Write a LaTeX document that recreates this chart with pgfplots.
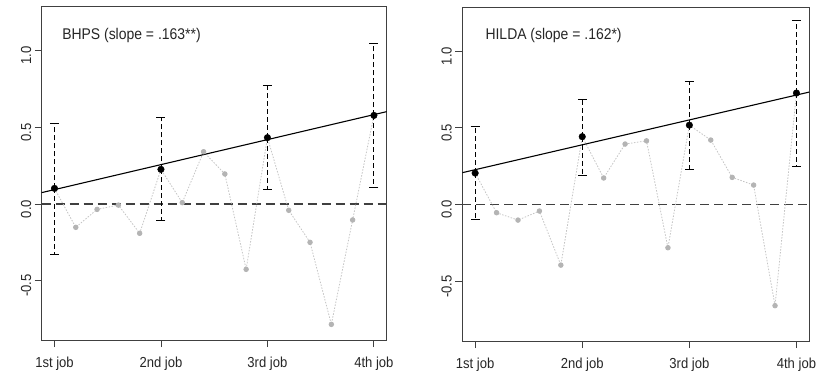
\documentclass[border=0pt]{standalone}
\usepackage{fontspec}
\setmainfont{Liberation Sans}[FakeStretch=0.9]
\usepackage{pgfplots}
\usepackage{pgfplotstable}
\pgfplotsset{compat=1.18}

\definecolor{ptgray}{HTML}{B4B4B4}
\definecolor{lngray}{HTML}{C4C4C4}
\definecolor{axgray}{HTML}{404040}

% BHPS: all points (jobs and intermediate)
\pgfplotstableread{
x y
1.0 0.102
1.2 -0.152
1.4 -0.035
1.6 -0.007
1.8 -0.191
2.0 0.226
2.2 0.009
2.4 0.341
2.6 0.196
2.8 -0.426
3.0 0.433
3.2 -0.041
3.4 -0.250
3.6 -0.785
3.8 -0.104
4.0 0.578
}\bhpsall
\pgfplotstableread{
x y ep em
1 0.102 0.424 0.428
2 0.226 0.339 0.335
3 0.433 0.343 0.335
4 0.578 0.470 0.469
}\bhpsjob
\pgfplotstableread{
x y
0.88 0.0744
4.12 0.6026
}\bhpsfit

% HILDA
\pgfplotstableread{
x y
1.0 0.206
1.2 -0.052
1.4 -0.100
1.6 -0.041
1.8 -0.393
2.0 0.443
2.2 0.174
2.4 0.395
2.6 0.416
2.8 -0.280
3.0 0.518
3.2 0.421
3.4 0.178
3.6 0.128
3.8 -0.657
4.0 0.727
}\hildaall
\pgfplotstableread{
x y ep em
1 0.206 0.306 0.299
2 0.443 0.245 0.254
3 0.518 0.287 0.286
4 0.727 0.473 0.480
}\hildajob
\pgfplotstableread{
x y
0.88 0.2086
4.12 0.7334
}\hildafit

\pgfplotsset{
  rstyle/.style={
    scale only axis,
    xmin=0.88, xmax=4.12,
    ymin=-0.887, ymax=1.287,
    axis line style={axgray, line width=0.9pt},
    xtick={1,2,3,4},
    xticklabels={1st job,2nd job,3rd job,4th job},
    ytick={-0.5,0,0.5,1},
    yticklabels={-0.5,0.0,0.5,1.0},
    tick align=outside,
    tick pos=left,
    major tick length=7pt,
    tick style={axgray, line width=0.9pt},
    xticklabel style={font=\fontsize{14.5}{16}\selectfont, text=black!85, yshift=-6pt},
    yticklabel style={font=\fontsize{14.5}{16}\selectfont, text=black!85, rotate=90, anchor=south, xshift=-5pt},
    clip=true,
  },
  ebar/.style={
    draw=none, mark=none,
    error bars/.cd,
      y dir=both, y explicit,
      error bar style={black, line width=0.9pt, dash pattern=on 5pt off 3pt},
      error mark=-,
      error mark options={black, line width=0.9pt, solid, mark size=4.5pt, rotate=90},
  },
}

\begin{document}
\begin{tikzpicture}
% ---------- BHPS ----------
\begin{axis}[rstyle, at={(41.7pt,33pt)}, anchor=south west, width=345pt, height=333.3pt]
  \addplot[black!75, line width=1.2pt, dash pattern=on 9pt off 5pt, forget plot] coordinates {(0.88,0) (4.12,0)};
  \addplot[lngray, line width=0.8pt, dash pattern=on 1.5pt off 1.5pt, mark=*, mark size=2.3pt,
           mark options={solid, draw=ptgray, fill=ptgray}] table[x=x, y=y] {\bhpsall};
  \addplot[black, line width=1.1pt] table[x=x, y=y] {\bhpsfit};
  \addplot[ebar] table[x=x, y=y, y error plus=ep, y error minus=em] {\bhpsjob};
  \addplot[only marks, mark=*, mark size=3.3pt, black] table[x=x, y=y] {\bhpsjob};
  \node[anchor=west, font=\fontsize{15.5}{17}\selectfont, text=black!85] at (axis cs:1.04,1.102) {BHPS (slope = .163**)};
\end{axis}
% ---------- HILDA ----------
\begin{axis}[rstyle, at={(462.3pt,32pt)}, anchor=south west, width=347pt, height=334pt]
  \addplot[black!75, line width=1.2pt, dash pattern=on 9pt off 5pt, forget plot] coordinates {(0.88,0) (4.12,0)};
  \addplot[lngray, line width=0.8pt, dash pattern=on 1.5pt off 1.5pt, mark=*, mark size=2.3pt,
           mark options={solid, draw=ptgray, fill=ptgray}] table[x=x, y=y] {\hildaall};
  \addplot[black, line width=1.1pt] table[x=x, y=y] {\hildafit};
  \addplot[ebar] table[x=x, y=y, y error plus=ep, y error minus=em] {\hildajob};
  \addplot[only marks, mark=*, mark size=3.3pt, black] table[x=x, y=y] {\hildajob};
  \node[anchor=west, font=\fontsize{15.5}{17}\selectfont, text=black!85] at (axis cs:1.064,1.102) {HILDA (slope = .162*)};
\end{axis}
\pgfresetboundingbox
\useasboundingbox (0,0) rectangle (819pt,373pt);
\end{tikzpicture}
\end{document}
